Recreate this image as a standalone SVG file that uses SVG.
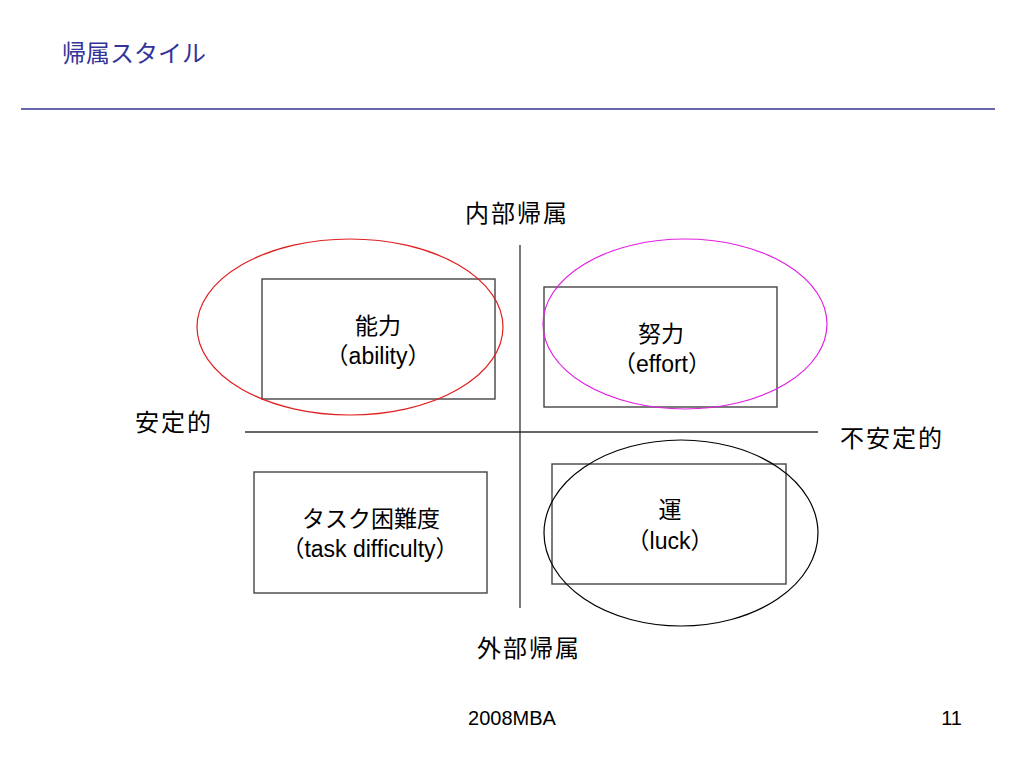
<svg xmlns="http://www.w3.org/2000/svg" width="1024" height="768" viewBox="0 0 1024 768">
<style>
text{font-family:"Liberation Sans","Noto Sans CJK JP",sans-serif;fill:#000}
.t{font-size:23px;text-anchor:middle}
.a{font-size:24px;letter-spacing:2px;text-anchor:middle}
.box{fill:none;stroke:#444;stroke-width:1.4}
.ax{stroke:#333;stroke-width:1.3}
.ell{fill:none;stroke-width:1.2}
</style>
<rect width="1024" height="768" fill="#fff"/>
<text x="62" y="62" style="font-size:24px;fill:#333399">帰属スタイル</text>
<line x1="21" y1="109" x2="995" y2="109" stroke="#6666aa" stroke-width="2"/>
<g id="connectors">
<line class="ax" x1="520" y1="245" x2="520" y2="608"/>
<line class="ax" x1="245" y1="432" x2="818" y2="432"/>
</g>
<g id="axis-labels">
<text class="a" x="517" y="222">内部帰属</text>
<text class="a" x="529" y="657">外部帰属</text>
<text class="a" x="174" y="431">安定的</text>
<text class="a" x="892" y="447">不安定的</text>
</g>
<g id="ability">
<rect class="box" x="262" y="279" width="233" height="120"/>
<text class="t" x="378" y="334">能力</text>
<text class="t" x="378" y="364">（ability）</text>
</g>
<g id="effort">
<rect class="box" x="544" y="287" width="233" height="120"/>
<text class="t" x="661" y="342">努力</text>
<text class="t" x="662" y="372">（effort）</text>
</g>
<g id="task">
<rect class="box" x="254" y="472" width="233" height="121"/>
<text class="t" x="371" y="527">タスク困難度</text>
<text class="t" x="370" y="557">（task difficulty）</text>
</g>
<g id="luck">
<rect class="box" x="552" y="464" width="234" height="120"/>
<text class="t" x="670" y="518">運</text>
<text class="t" x="670" y="549">（luck）</text>
</g>
<g id="ellipses">
<ellipse class="ell" cx="350" cy="327" rx="153" ry="88" stroke="#e02020"/>
<ellipse class="ell" cx="685" cy="324" rx="142" ry="85" stroke="#e020e0"/>
<ellipse class="ell" cx="681" cy="533" rx="137" ry="93" stroke="#000"/>
</g>
<text x="512" y="725" style="font-size:20px;text-anchor:middle">2008MBA</text>
<text x="962" y="725" style="font-size:20px;text-anchor:end">11</text>
</svg>
